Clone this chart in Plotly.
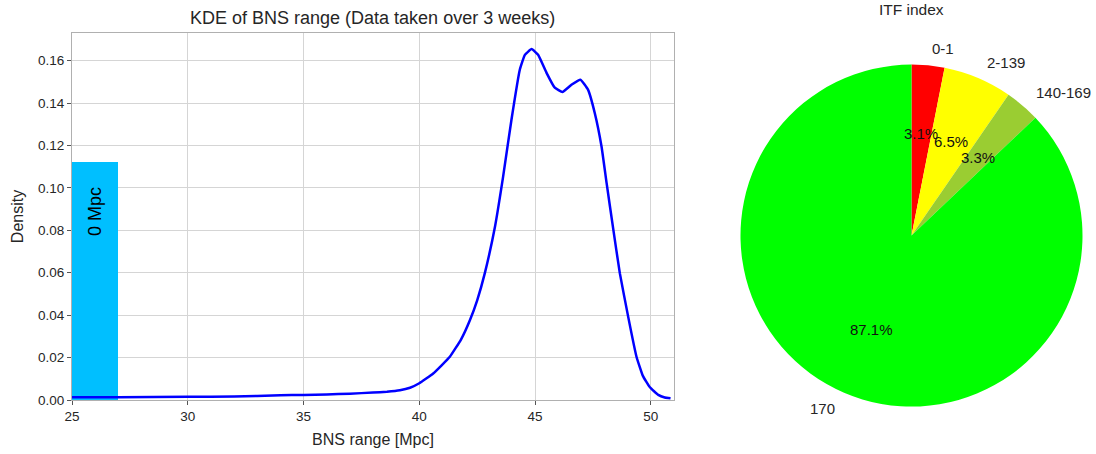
import math
import plotly.graph_objects as go

# KDE of BNS range (Mpc) sampled along the curve
bns_range = [25.0, 27.0, 30.0, 32.0, 34.0, 35.0, 36.0, 37.0, 38.0, 38.6, 39.16, 39.6,
             40.0, 40.6, 41.32, 41.8, 42.18, 42.5, 42.83, 43.27, 43.62, 43.98, 44.34,
             44.56, 44.85, 45.13, 45.5, 45.85, 46.18, 46.57, 46.96, 47.29, 47.58,
             47.87, 48.09, 48.37, 48.66, 49.02, 49.38, 49.65, 49.96, 50.32, 50.6, 50.85]
density = [0.0013, 0.0013, 0.0015, 0.0016, 0.0022, 0.0024, 0.0026, 0.0030, 0.0035,
           0.0039, 0.0046, 0.0058, 0.0079, 0.0125, 0.0204, 0.0285, 0.0375, 0.0470,
           0.0598, 0.0818, 0.1053, 0.1321, 0.1557, 0.1627, 0.1654, 0.1627, 0.1541,
           0.1472, 0.1452, 0.1486, 0.1510, 0.1462, 0.1352, 0.1195, 0.1022, 0.0810,
           0.0598, 0.0393, 0.0204, 0.0115, 0.0060, 0.0024, 0.0012, 0.0008]

# Share of time at zero range
zero_bin_center = [26.0]
zero_bin_height = [0.112]
zero_bin_label = "0 Mpc"

# ITF index breakdown
itf_labels = ["0-1", "2-139", "140-169", "170"]
itf_share = [3.1, 6.5, 3.3, 87.1]
itf_colors = ["#ff0000", "#ffff00", "#9acd32", "#00ff00"]

W, H = 1096, 454
FONT = "Liberation Sans, Arial, sans-serif"
TXT = "#262626"

fig = go.Figure()

fig.add_trace(go.Bar(
    x=zero_bin_center, y=zero_bin_height, width=2.0,
    marker=dict(color="#00bfff", line=dict(width=0)),
    xaxis="x", yaxis="y", showlegend=False,
))
fig.add_trace(go.Scatter(
    x=bns_range, y=density, mode="lines",
    line=dict(color="#0000ff", width=2.5, shape="spline", smoothing=0.35),
    xaxis="x", yaxis="y", showlegend=False,
))

# Pie placement (pixels)
cx, cy, r = 911.5, 235.6, 171.0
fig.add_trace(go.Pie(
    labels=itf_labels, values=itf_share, sort=False, direction="clockwise",
    rotation=0, marker=dict(colors=itf_colors, line=dict(width=0)),
    textinfo="none", hoverinfo="label+percent", showlegend=False,
    domain=dict(x=[(cx - r) / W, (cx + r) / W], y=[(H - cy - r) / H, (H - cy + r) / H]),
))

annotations = []
# Slice labels and percentages placed around the pie
total = sum(itf_share)
cum = 0.0
for lab, val in zip(itf_labels, itf_share):
    mid = cum + val / 2.0
    cum += val
    theta = math.radians(90.0 - 360.0 * mid / total)
    lx = cx + 1.1 * r * math.cos(theta)
    ly = cy - 1.1 * r * math.sin(theta)
    annotations.append(dict(
        x=lx / W, y=1 - ly / H, xref="paper", yref="paper", text=lab,
        showarrow=False, xanchor="left" if math.cos(theta) > 0 else "right",
        yanchor="middle", font=dict(family=FONT, size=15, color=TXT),
    ))
    px = cx + 0.6 * r * math.cos(theta)
    py = cy - 0.6 * r * math.sin(theta)
    annotations.append(dict(
        x=px / W, y=1 - py / H, xref="paper", yref="paper",
        text=f"{100 * val / total:.1f}%", showarrow=False,
        xanchor="center", yanchor="middle", font=dict(family=FONT, size=15, color="#111111"),
    ))

annotations.append(dict(
    x=zero_bin_center[0], y=0.0887, xref="x", yref="y", text=zero_bin_label,
    textangle=-90, showarrow=False, font=dict(family=FONT, size=18, color="#000000"),
))
annotations.append(dict(
    x=372 / W, y=1 - 18 / H, xref="paper", yref="paper",
    text="KDE of BNS range (Data taken over 3 weeks)", showarrow=False,
    xanchor="center", yanchor="middle", font=dict(family=FONT, size=18, color=TXT),
))
annotations.append(dict(
    x=cx / W, y=1 - 10 / H, xref="paper", yref="paper", text="ITF index",
    showarrow=False, xanchor="center", yanchor="middle",
    font=dict(family=FONT, size=15.5, color=TXT),
))

axis_common = dict(
    showgrid=True, gridcolor="#d5d5d5", gridwidth=1,
    showline=True, linecolor="#b0b0b0", linewidth=1, mirror=True,
    ticks="outside", ticklen=4, tickcolor="#555555", automargin=False,
    tickfont=dict(family=FONT, size=13.5, color=TXT), zeroline=False,
)

fig.update_layout(
    width=W, height=H, margin=dict(l=0, r=0, t=0, b=0),
    paper_bgcolor="white", plot_bgcolor="white",
    font=dict(family=FONT, color=TXT),
    bargap=0,
    xaxis=dict(
        domain=[72 / W, 674 / W], range=[25, 51], tickvals=[25, 30, 35, 40, 45, 50],
        title=dict(text="BNS range [Mpc]", font=dict(family=FONT, size=16, color=TXT), standoff=10),
        anchor="y", **axis_common,
    ),
    yaxis=dict(
        domain=[(H - 400) / H, (H - 33) / H], range=[0, 0.173],
        tickvals=[0, 0.02, 0.04, 0.06, 0.08, 0.10, 0.12, 0.14, 0.16],
        tickformat=".2f",
        title=dict(text="Density", font=dict(family=FONT, size=16, color=TXT), standoff=10),
        anchor="x", **axis_common,
    ),
    annotations=annotations,
)

fig.write_html("out.html")
